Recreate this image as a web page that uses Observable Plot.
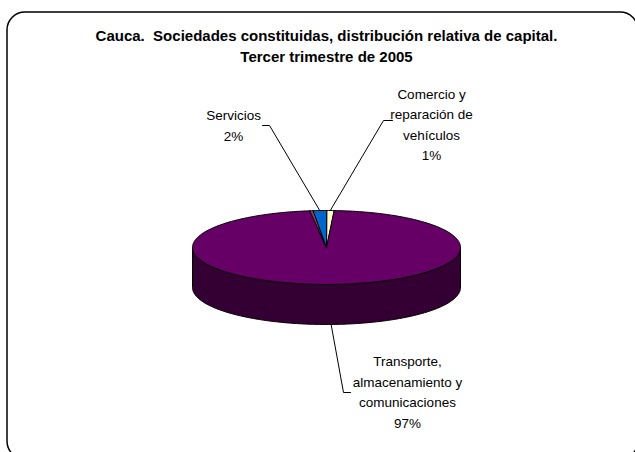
<!DOCTYPE html>
<html><head><meta charset="utf-8">
<script src="https://cdn.jsdelivr.net/npm/d3@7"></script>
<script src="https://cdn.jsdelivr.net/npm/@observablehq/plot@0.6"></script>
<style>body{margin:0;background:#fff;overflow:hidden}</style>
</head><body><div id="chart"></div>
<script>
// ---- data ----
const titleLines = ["Cauca.\u00a0 Sociedades constituidas, distribución relativa de capital.", "Tercer trimestre de 2005"];
const categories = ["Comercio y\nreparación de\nvehículos", "Transporte,\nalmacenamiento y\ncomunicaciones", "Otros", "Servicios"];
const values = [0.9, 97.1, 0.4, 1.6];
const showLabel = [true, true, false, true];
const colors = ["#FFFFCC", "#660066", "#993366", "#0066CC"];

// ---- layout ----
const W = 635, H = 452;
const cx = 326, cy = 247, rx = 134, ry = 37, depth = 40;
const font = "'Liberation Sans', Arial, sans-serif";

const total = d3.sum(values);
const arcs = d3.pie().sort(null).value(d => d)(values); // clockwise from 12 o'clock
const pt = (a, dz = 0) => ({x: cx + rx * Math.sin(a), y: cy - ry * Math.cos(a) + dz});
const arcPts = (a0, a1, dz) => {
  const n = Math.max(2, Math.ceil(Math.abs(a1 - a0) / (Math.PI / 180)));
  return d3.range(n + 1).map(i => pt(a0 + (a1 - a0) * i / n, dz));
};

const topFaces = [], sideFaces = [];
arcs.forEach((a, i) => {
  const id = "t" + i;
  topFaces.push({x: cx, y: cy, id, fill: colors[i]});
  arcPts(a.startAngle, a.endAngle, 0).forEach(p => topFaces.push({...p, id, fill: colors[i]}));
  const s = Math.max(a.startAngle, Math.PI / 2), e = Math.min(a.endAngle, 3 * Math.PI / 2);
  if (e > s) {
    const sid = "s" + i, f = d3.color(colors[i]).darker(1.9).formatHex();
    arcPts(s, e, 0).forEach(p => sideFaces.push({...p, id: sid, fill: f}));
    arcPts(e, s, depth).forEach(p => sideFaces.push({...p, id: sid, fill: f}));
  }
});

// label anchor positions (layout)
const labelPos = [
  {x: 431, y: 122.5, elbow: {x: 383, y: 120}, end: {x: 392, y: 120}},
  {x: 407, y: 390, elbow: {x: 343, y: 392}, end: {x: 350, y: 392}},
  null,
  {x: 233, y: 123.5, elbow: {x: 269, y: 125}, end: {x: 262, y: 125}}
];
const labels = [], leaders = [];
arcs.forEach((a, i) => {
  if (!showLabel[i]) return;
  const lp = labelPos[i];
  const mid = (a.startAngle + a.endAngle) / 2;
  const frontSide = Math.cos(mid) < 0;
  const anchor = pt(mid, frontSide ? depth : 0);
  labels.push({x: lp.x, y: lp.y, text: categories[i] + "\n" + Math.round(values[i] / total * 100) + "%"});
  [anchor, lp.elbow, lp.end].forEach(p => leaders.push({...p, id: i}));
});

const titles = titleLines.map((t, i) => ({t, i}));

const chart = Plot.plot({
  width: W, height: H,
  margin: 0,
  x: {domain: [0, W], range: [0, W], axis: null},
  y: {domain: [0, H], range: [0, H], axis: null},
  color: {type: "identity"},
  style: {fontFamily: font, background: "#fff", color: "#000"},
  marks: [
    Plot.rect([0], {x1: () => 7, x2: () => 638, y1: () => 12, y2: () => 459, rx: 18, fill: "none", stroke: "#000", strokeWidth: 1.5}),
    Plot.line(sideFaces, {x: "x", y: "y", z: "id", fill: "fill", stroke: "#000", strokeWidth: 1, curve: "linear-closed"}),
    Plot.line(topFaces, {x: "x", y: "y", z: "id", fill: "fill", stroke: "#000", strokeWidth: 1, curve: "linear-closed"}),
    Plot.line(leaders, {x: "x", y: "y", z: "id", stroke: "#000", strokeWidth: 1}),
    Plot.text(labels, {x: "x", y: "y", text: "text", fontSize: 13.5, lineHeight: 1.52, textAnchor: "middle", fill: "#000"}),
    Plot.text(titles, {x: () => cx, y: d => 36 + d.i * 21, text: "t", fontSize: 15, fontWeight: "bold", textAnchor: "middle", fill: "#000"})
  ]
});
document.getElementById("chart").append(chart);
</script>
</body></html>
